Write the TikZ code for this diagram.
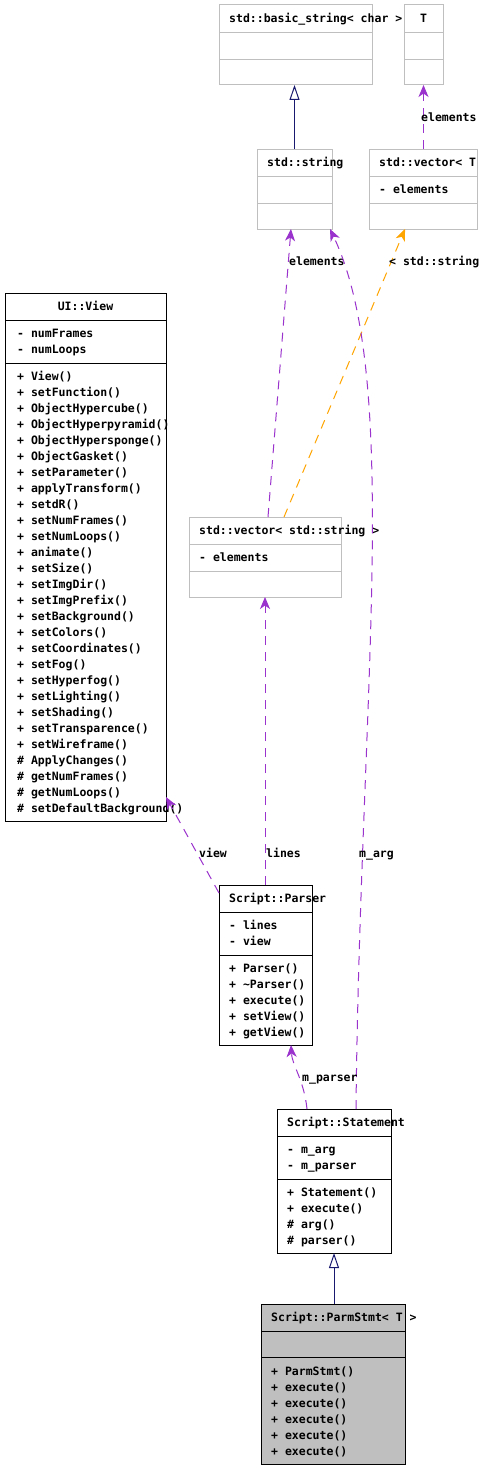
\documentclass[tikz,border=0pt]{standalone}
\usepackage{fontspec}
\usepackage{xcolor}
\usepackage{tikz}
\usetikzlibrary{positioning,calc,arrows.meta}
\newfontfamily\umlfont{DejaVu Sans Mono}
\definecolor{edgepurple}{HTML}{9A32CD}
\definecolor{edgeorange}{HTML}{FFA500}
\definecolor{edgenavy}{HTML}{191970}
\definecolor{boxgray}{HTML}{BFBFBF}

\begin{document}
\begin{tikzpicture}[x=1pt,y=-1pt,
    cls/.style={draw=boxgray,line width=1pt,inner sep=0pt,outer sep=0pt,anchor=north west},
    mem/.style={font=\umlfont\fontsize{11.5}{14}\selectfont\bfseries,inner sep=0pt,text height=8.5pt,text depth=0pt,anchor=west},
    dep/.style={edgepurple,line width=1pt,dash pattern=on 9pt off 7pt,-{Stealth[length=12pt,width=10pt,inset=3.5pt]}},
    tmpl/.style={edgeorange,line width=1pt,dash pattern=on 9pt off 7pt,-{Stealth[length=12pt,width=10pt,inset=3.5pt]}},
    inherit/.style={edgenavy,line width=1pt,-{Triangle[open,length=15pt,width=10pt]}}]
    \path[use as bounding box,fill=white] (0,0) rectangle (481,1469);

    % std::basic_string< char > and T
    \node[cls,minimum width=153pt,minimum height=80pt] (bstr) at (219,5) {};
    \draw[boxgray] (219,32) -- (372,32) (219,59) -- (372,59);
    \node[mem] (bstr-t) at (229,18.5) {std::basic\_string< char >};
    \node[cls,minimum width=39pt,minimum height=80pt] (tcls) at (404,5) {};
    \draw[boxgray] (404,32) -- (443,32) (404,59) -- (443,59);
    \node[mem,anchor=center] (tcls-t) at (423.5,18.5) {T};

    % std::string
    \node[cls,minimum width=75pt,minimum height=80pt] (str) at (257,149) {};
    \draw[boxgray] (257,176) -- (332,176) (257,203) -- (332,203);
    \node[mem] (str-t) at (267,162.5) {std::string};

    % std::vector< T >
    \node[cls,minimum width=108pt,minimum height=80pt] (vect) at (369,149) {};
    \draw[boxgray] (369,176) -- (477,176) (369,203) -- (477,203);
    \node[mem] (vect-t) at (379,162.5) {std::vector< T >};
    \node[mem] (vect-a) at (379,189) {- elements};

    % UI::View
    \node[cls,draw=black,minimum width=161pt,minimum height=528pt] (view) at (5,293) {};
    \draw (5,320) -- (166,320) (5,363) -- (166,363);
    \node[mem,anchor=center] (view-t) at (85.5,306.5) {UI::View};
    \node[mem] (view-a0) at (17,333) {- numFrames};
    \node[mem] (view-a1) at (17,349) {- numLoops};
    \foreach \m [count=\i from 0] in {+ View(),+ setFunction(),+ ObjectHypercube(),
        + ObjectHyperpyramid(),+ ObjectHypersponge(),+ ObjectGasket(),+ setParameter(),
        + applyTransform(),+ setdR(),+ setNumFrames(),+ setNumLoops(),+ animate(),
        + setSize(),+ setImgDir(),+ setImgPrefix(),+ setBackground(),+ setColors(),
        + setCoordinates(),+ setFog(),+ setHyperfog(),+ setLighting(),+ setShading(),
        + setTransparence(),+ setWireframe(),\# ApplyChanges(),\# getNumFrames(),
        \# getNumLoops(),\# setDefaultBackground()}
        \node[mem] (view-m\i) at (17,376+16*\i) {\m};

    % std::vector< std::string >
    \node[cls,minimum width=152pt,minimum height=80pt] (vstr) at (189,517) {};
    \draw[boxgray] (189,544) -- (341,544) (189,571) -- (341,571);
    \node[mem] (vstr-t) at (199,530.5) {std::vector< std::string >};
    \node[mem] (vstr-a) at (199,557) {- elements};

    % Script::Parser
    \node[cls,draw=black,minimum width=93pt,minimum height=160pt] (parser) at (219,885) {};
    \draw (219,912) -- (312,912) (219,955) -- (312,955);
    \node[mem] (parser-t) at (229,898.5) {Script::Parser};
    \node[mem] (parser-a0) at (229,925) {- lines};
    \node[mem] (parser-a1) at (229,941) {- view};
    \foreach \m [count=\i from 0] in {+ Parser(),+ \textasciitilde Parser(),+ execute(),+ setView(),+ getView()}
        \node[mem] (parser-m\i) at (229,968+16*\i) {\m};

    % Script::Statement
    \node[cls,draw=black,minimum width=114pt,minimum height=144pt] (stmt) at (277,1109) {};
    \draw (277,1136) -- (391,1136) (277,1179) -- (391,1179);
    \node[mem] (stmt-t) at (287,1122.5) {Script::Statement};
    \node[mem] (stmt-a0) at (287,1149) {- m\_arg};
    \node[mem] (stmt-a1) at (287,1165) {- m\_parser};
    \foreach \m [count=\i from 0] in {+ Statement(),+ execute(),\# arg(),\# parser()}
        \node[mem] (stmt-m\i) at (287,1192+16*\i) {\m};

    % Script::ParmStmt< T >
    \node[cls,draw=black,fill=boxgray,minimum width=144pt,minimum height=160pt] (parm) at (261,1304) {};
    \draw (261,1331) -- (405,1331) (261,1357) -- (405,1357);
    \node[mem] (parm-t) at (271,1317.5) {Script::ParmStmt< T >};
    \foreach \m [count=\i from 0] in {+ ParmStmt(),+ execute(),+ execute(),+ execute(),+ execute(),+ execute()}
        \node[mem] (parm-m\i) at (271,1371+16*\i) {\m};

    % inheritance
    \draw[inherit] (str.north) -- (str.north |- bstr.south);
    \draw[inherit] (parm.north -| stmt.south) -- (stmt.south);

    % usage
    \draw[dep] (vect.north -| tcls.south) -- (tcls.south);
    \node[mem] (lbl-el1) at (421,117) {elements};
    \draw[dep] ([xshift=3pt]vstr.north) -- ([xshift=-3.5pt]str.south);
    \node[mem] (lbl-el2) at (289,261) {elements};
    \draw[tmpl] ([xshift=19pt]vstr.north) -- ([xshift=-18pt]vect.south);
    \node[mem] (lbl-tmpl) at (389,261) {< std::string >};
    \draw[dep] ([xshift=22pt]stmt.north) .. controls (360,700) and (402,380) .. ([xshift=-2pt]str.south east);
    \node[mem] (lbl-arg) at (359,853) {m\_arg};
    \draw[dep] (parser.north -| vstr.south) -- (vstr.south);
    \node[mem] (lbl-lines) at (266,853) {lines};
    \draw[dep] ([yshift=-8pt]parser.north west) -- ([yshift=24pt]view.south east);
    \node[mem] (lbl-view) at (199,853) {view};
    \draw[dep] ([xshift=-27pt]stmt.north) .. controls (304,1080) and (292,1065) .. ([xshift=25.5pt]parser.south);
    \node[mem] (lbl-parser) at (302,1077) {m\_parser};
\end{tikzpicture}
\end{document}
